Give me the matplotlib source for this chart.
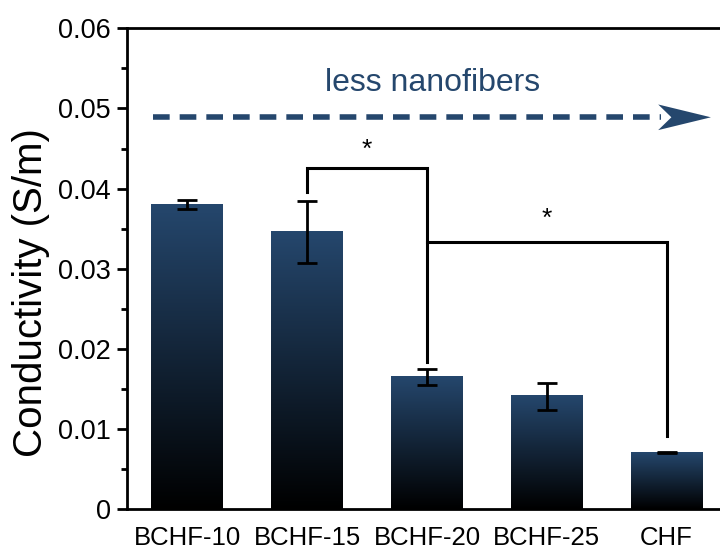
import matplotlib.pyplot as plt
import numpy as np
from matplotlib.colors import LinearSegmentedColormap
from matplotlib.patches import Polygon
from matplotlib.ticker import MultipleLocator, FuncFormatter

plt.rcParams['font.family'] = ['Liberation Sans', 'DejaVu Sans']

# data
samples = ['BCHF-10', 'BCHF-15', 'BCHF-20', 'BCHF-25', 'CHF']
conductivity = [0.0380, 0.0346, 0.0165, 0.0141, 0.0071]
errors = [0.0006, 0.0039, 0.0010, 0.0017, 0.0001]

blue = '#25476d'
cmap = LinearSegmentedColormap.from_list('bar', ['#000000', blue])

fig = plt.figure(figsize=(7.2, 5.54), dpi=100)
ax = fig.add_axes([0.177, 0.0807, 0.832, 0.8682])

x = np.arange(len(samples))
width = 0.6
grad = np.linspace(0, 1, 256).reshape(-1, 1)
for xi, h in zip(x, conductivity):
	ax.imshow(grad, cmap=cmap, origin='lower', aspect='auto',
		extent=(xi - width / 2, xi + width / 2, 0, h), zorder=2)
ax.errorbar(x, conductivity, yerr=errors, fmt='none', ecolor='black',
	elinewidth=2, capsize=7, capthick=2, zorder=3)

# significance brackets
lw = 2.2
ax.plot([x[1], x[1], x[2], x[2]], [0.0396, 0.0426, 0.0426, 0.0184],
	color='black', lw=lw, solid_joinstyle='miter', zorder=3)
ax.plot([x[2], x[4], x[4]], [0.0333, 0.0333, 0.0092],
	color='black', lw=lw, solid_joinstyle='miter', zorder=3)
ax.text((x[1] + x[2]) / 2, 0.0448, '*', ha='center', va='center', fontsize=19)
ax.text((x[2] + x[4]) / 2, 0.0362, '*', ha='center', va='center', fontsize=19)

# "less nanofibers" arrow
ay = 0.0489
ax.plot([-0.29, 3.95], [ay, ay], color=blue, lw=4, dashes=(3.0, 1.8),
	solid_capstyle='butt', dash_capstyle='butt')
tip = 4.37
head = Polygon([[tip, ay], [tip - 0.44, ay + 0.0016], [tip - 0.33, ay],
	[tip - 0.44, ay - 0.0016]], closed=True, color=blue, lw=0)
ax.add_patch(head)
ax.text(2.05, 0.0532, 'less nanofibers', color=blue, ha='center',
	va='center', fontsize=23)

ax.set_xlim(-0.5, 4.5)
ax.set_ylim(0, 0.06)
ax.set_xticks(x)
ax.set_xticklabels(samples)
ax.yaxis.set_major_locator(MultipleLocator(0.01))
ax.yaxis.set_minor_locator(MultipleLocator(0.005))
ax.yaxis.set_major_formatter(FuncFormatter(lambda v, p: '0' if v == 0 else '%.2f' % v))
ax.tick_params(axis='y', which='major', length=7, width=2, labelsize=19.5, pad=5)
ax.tick_params(axis='y', which='minor', length=4, width=2)
ax.tick_params(axis='x', length=0, labelsize=18.5, pad=12)
ax.set_ylabel('Conductivity (S/m)', fontsize=29)
ax.yaxis.set_label_coords(-0.13, 0.45)
for s in ['left', 'bottom', 'top']:
	ax.spines[s].set_linewidth(2)
ax.spines['right'].set_visible(False)

fig.savefig('out.png', dpi=100)
